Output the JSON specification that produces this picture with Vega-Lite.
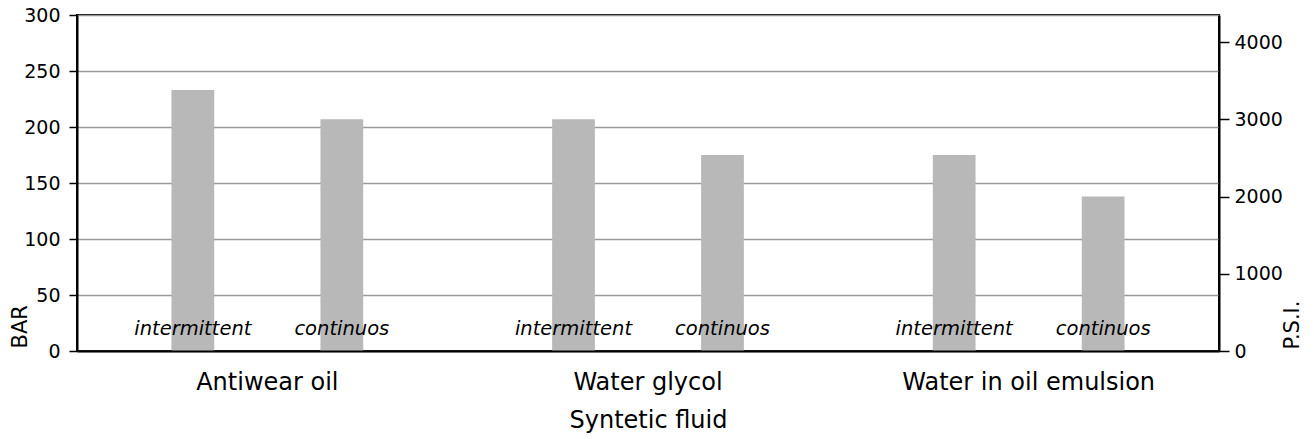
{
  "$schema": "https://vega.github.io/schema/vega-lite/v6.json",
  "width": 1142,
  "height": 336,
  "autosize": "none",
  "padding": {"left": 77, "top": 15, "right": 95, "bottom": 88},
  "background": "white",
  "config": {
    "font": "DejaVu Sans",
    "view": {"stroke": "black", "strokeWidth": 2},
    "axis": {
      "labelColor": "black",
      "titleColor": "black",
      "labelFont": "DejaVu Sans",
      "titleFont": "DejaVu Sans",
      "titleFontWeight": "normal",
      "domainColor": "black",
      "domainWidth": 2,
      "tickColor": "black"
    }
  },
  "data": {
    "values": [
      {"fluid": "Antiwear oil", "regime": "intermittent", "bar": 233},
      {"fluid": "Antiwear oil", "regime": "continuos", "bar": 207},
      {"fluid": "Water glycol", "regime": "intermittent", "bar": 207},
      {"fluid": "Water glycol", "regime": "continuos", "bar": 175},
      {"fluid": "Water in oil emulsion", "regime": "intermittent", "bar": 175},
      {"fluid": "Water in oil emulsion", "regime": "continuos", "bar": 138}
    ]
  },
  "encoding": {
    "x": {
      "field": "fluid",
      "type": "nominal",
      "sort": ["Antiwear oil", "Water glycol", "Water in oil emulsion"],
      "scale": {"paddingInner": 0, "paddingOuter": 0},
      "axis": {
        "title": "Syntetic fluid",
        "labelAngle": 0,
        "labelLimit": 0,
        "ticks": false,
        "labelFontSize": 24,
        "titleFontSize": 24,
        "labelPadding": 19,
        "titlePadding": 14,
        "zindex": 1
      }
    },
    "xOffset": {
      "field": "regime",
      "type": "nominal",
      "scale": {"domain": ["intermittent", "continuos"], "paddingInner": 0.713, "paddingOuter": 0.634}
    }
  },
  "layer": [
    {
      "layer": [
        {
          "mark": {"type": "bar", "color": "#b8b8b8"},
          "encoding": {
            "y": {
              "field": "bar",
              "type": "quantitative",
              "title": "BAR",
              "scale": {"domain": [0, 300], "nice": false},
              "axis": {
                "values": [0, 50, 100, 150, 200, 250, 300],
                "grid": true,
                "gridColor": "#999999",
                "gridWidth": 1.5,
                "tickSize": 8,
                "tickWidth": 1.5,
                "labelFontSize": 19,
                "labelPadding": 9,
                "titleFontSize": 21,
                "titleAngle": 270,
                "titleX": -51,
                "titleY": 333,
                "titleAlign": "left",
                "titleBaseline": "alphabetic"
              }
            }
          }
        },
        {
          "mark": {"type": "text", "font": "DejaVu Sans", "fontStyle": "italic", "fontSize": 19.5, "baseline": "alphabetic", "align": "center", "color": "black"},
          "encoding": {
            "y": {"datum": 14, "type": "quantitative", "title": "BAR"},
            "text": {"field": "regime"}
          }
        }
      ]
    },
    {
      "mark": {"type": "rule", "opacity": 0},
      "encoding": {
        "y": {
          "datum": 0,
          "type": "quantitative",
          "scale": {"domain": [0, 4351], "nice": false},
          "axis": {
            "orient": "right",
            "title": "P.S.I.",
            "values": [0, 1000, 2000, 3000, 4000],
            "format": "d",
            "grid": false,
            "tickSize": 10,
            "tickWidth": 1.5,
            "labelFontSize": 19,
            "labelPadding": 5,
            "titleFontSize": 21,
            "titleAngle": 270,
            "titleX": 79,
            "titleY": 334,
            "titleAlign": "left",
            "titleBaseline": "alphabetic"
          }
        }
      }
    }
  ],
  "resolve": {"scale": {"y": "independent"}}
}
